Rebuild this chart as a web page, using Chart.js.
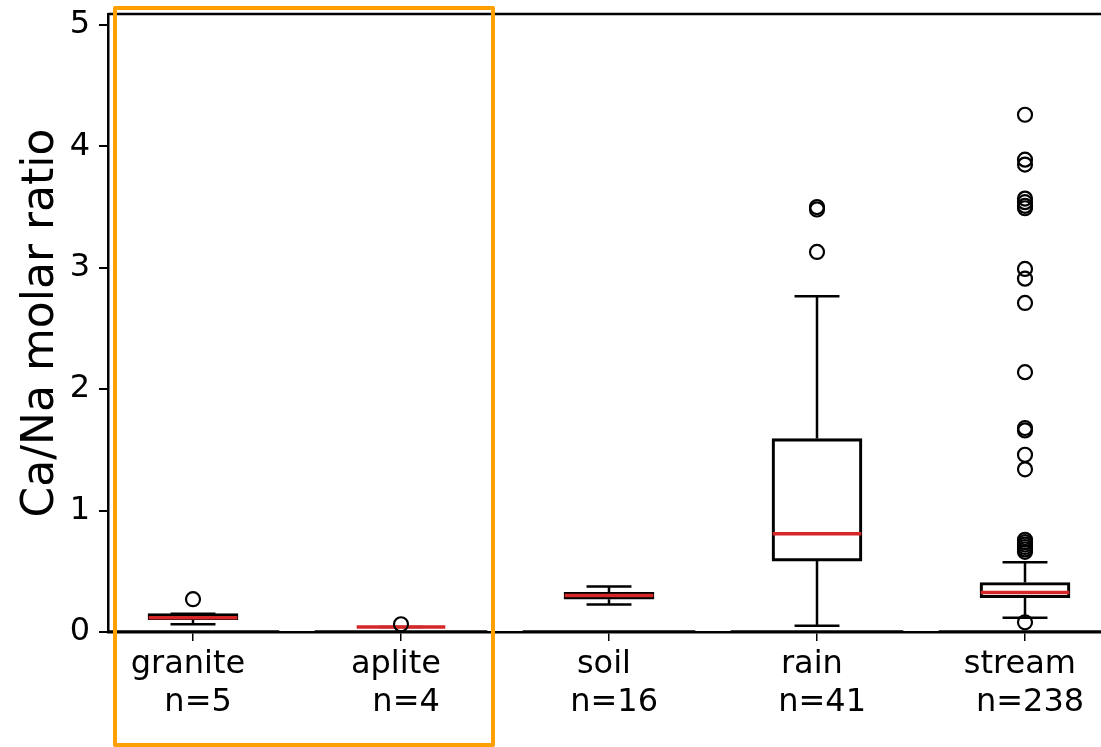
<!DOCTYPE html>
<html>
<head>
<meta charset="utf-8">
<script src="https://cdn.jsdelivr.net/npm/chart.js@4"></script>
<style>
    html, body { margin: 0; padding: 0; background: #fff; overflow: hidden; }
    #wrap { position: relative; width: 1101px; height: 747px; }
    #highlight {
        position: absolute; left: 113px; top: 6px; width: 374px; height: 733px;
        border: 4px solid #ff9f00; border-radius: 2px; pointer-events: none;
    }
</style>
</head>
<body>
<div id="wrap">
    <canvas id="box" width="1101" height="747"></canvas>
    <div id="highlight"></div>
</div>
<script>
// box statistics
const categories = ['granite', 'aplite', 'soil', 'rain', 'stream'];
const counts = [5, 4, 16, 41, 238];
const whiskerLow = [0.064, 0.041, 0.227, 0.051, 0.117];
const q1 = [0.101, 0.041, 0.270, 0.584, 0.282];
const medians = [0.118, 0.041, 0.300, 0.810, 0.326];
const q3 = [0.151, 0.041, 0.326, 1.593, 0.408];
const whiskerHigh = [0.151, 0.041, 0.375, 2.766, 0.575];
const fliers = [
    [0.27],
    [0.064],
    [],
    [3.50, 3.48, 3.13],
    [4.26, 3.89, 3.85, 3.57, 3.54, 3.51, 3.49, 2.99, 2.91, 2.71, 2.14,
     1.68, 1.66, 1.46, 1.34, 0.76, 0.74, 0.72, 0.70, 0.68, 0.66, 0.08]
];
const yTicks = [0, 1, 2, 3, 4, 5];

const positions = categories.map((c, i) => i + 1);
const xLabels = categories.map((c, i) => [c + ' ', ' n=' + counts[i]]);

const boxHalf = 0.213;
const capHalf = 0.108;
const baseHalf = 0.415;

// turn [x1, y1, x2, y2] pieces into one line dataset with gaps
function segments(list) {
    const out = [];
    list.forEach(([x1, y1, x2, y2]) => {
        out.push({x: x1, y: y1}, {x: x2, y: y2}, {x: x2, y: null});
    });
    return out;
}

const whiskers = segments(positions.flatMap((p, i) => [
    [p, q1[i], p, whiskerLow[i]],
    [p, q3[i], p, whiskerHigh[i]]
]));
const caps = segments(positions.flatMap((p, i) => [
    [p - capHalf, whiskerLow[i], p + capHalf, whiskerLow[i]],
    [p - capHalf, whiskerHigh[i], p + capHalf, whiskerHigh[i]]
]));
const medianLines = segments(positions.map((p, i) => [p - boxHalf, medians[i], p + boxHalf, medians[i]]));
const baseLines = segments(positions.map(p => [p - baseHalf, 0, p + baseHalf, 0]));
const flierPoints = positions.flatMap((p, i) => fliers[i].map(v => ({x: p, y: v})));

const topSpine = {
    id: 'topSpine',
    afterDraw(chart) {
        const {ctx, chartArea: a} = chart;
        ctx.save();
        ctx.strokeStyle = '#000';
        ctx.lineWidth = 2.5;
        ctx.beginPath();
        ctx.moveTo(a.left, a.top);
        ctx.lineTo(a.right, a.top);
        ctx.stroke();
        ctx.restore();
    }
};

const font = 'DejaVu Sans';
const line = {pointRadius: 0, spanGaps: false, borderCapStyle: 'butt', tension: 0};

new Chart(document.getElementById('box').getContext('2d'), {
    type: 'bar',
    data: {
        datasets: [
            {
                type: 'bar',
                data: positions.map((p, i) => ({x: p, y: [q1[i], q3[i]]})),
                backgroundColor: 'rgba(0,0,0,0)',
                borderColor: '#000',
                borderWidth: 2.5,
                borderSkipped: false,
                barThickness: 90,
                order: 5
            },
            {type: 'line', data: whiskers, borderColor: '#000', borderWidth: 2.5, order: 4, ...line},
            {type: 'line', data: caps, borderColor: '#000', borderWidth: 2.5, order: 4, ...line},
            {type: 'line', data: baseLines, borderColor: '#000', borderWidth: 3.5, order: 3, ...line},
            {type: 'line', data: medianLines, borderColor: '#d62728', borderWidth: 3.5, order: 2, ...line},
            {
                type: 'line', data: flierPoints, showLine: false,
                pointStyle: 'circle', pointRadius: 7, pointBorderWidth: 2.2,
                pointBorderColor: '#000', pointBackgroundColor: 'rgba(0,0,0,0)', order: 1
            }
        ]
    },
    options: {
        responsive: false,
        animation: false,
        devicePixelRatio: 1,
        layout: {autoPadding: false, padding: {top: 14, right: 0, bottom: 0, left: 0}},
        plugins: {
            legend: {display: false},
            tooltip: {enabled: false}
        },
        scales: {
            x: {
                type: 'linear',
                offset: false,
                min: 1 - 85 / 208,
                max: 1 - 85 / 208 + 993 / 208,
                afterBuildTicks: s => { s.ticks = positions.map(v => ({value: v})); },
                afterFit: s => {
                    s.height = 115;
                    s.paddingLeft = 0;
                    s.paddingRight = 0;
                },
                ticks: {
                    autoSkip: false,
                    maxRotation: 0,
                    padding: 4,
                    color: '#000',
                    font: {family: font, size: 32, lineHeight: 1.2},
                    callback: (v, i) => xLabels[i]
                },
                grid: {offset: false, drawOnChartArea: false, drawTicks: true, tickLength: 9, color: '#000', lineWidth: 1.5},
                border: {display: true, color: '#000', width: 2.5}
            },
            y: {
                min: 0,
                max: 5.09,
                afterBuildTicks: s => { s.ticks = yTicks.map(v => ({value: v})); },
                afterFit: s => {
                    s.width = 108;
                    s.paddingTop = 0;
                    s.paddingBottom = 0;
                },
                ticks: {
                    padding: 9,
                    color: '#000',
                    font: {family: font, size: 32, lineHeight: 0.8},
                    callback: v => String(v)
                },
                grid: {drawOnChartArea: false, drawTicks: true, tickLength: 9, color: '#000', lineWidth: 2},
                border: {display: true, color: '#000', width: 2.5},
                title: {
                    display: true,
                    text: 'Ca/Na molar ratio',
                    color: '#000',
                    font: {family: font, size: 44, lineHeight: 1.2},
                    padding: {top: 15, bottom: 0}
                }
            }
        }
    },
    plugins: [topSpine]
});
</script>
</body>
</html>
